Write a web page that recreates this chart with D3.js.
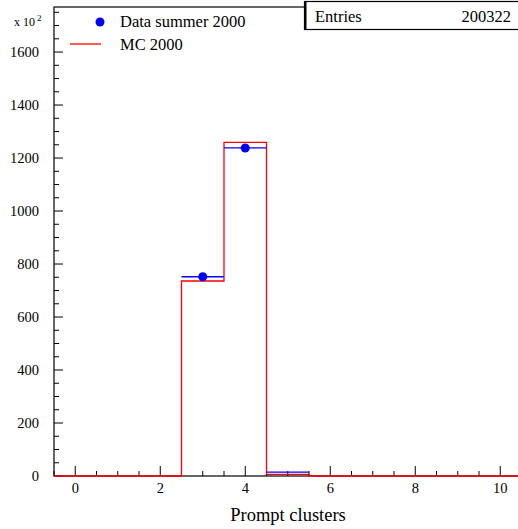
<!DOCTYPE html>
<html><head><meta charset="utf-8">
<script src="https://cdn.jsdelivr.net/npm/d3@7"></script>
<style>body{margin:0;background:#fff}svg{display:block}</style>
</head><body><svg id="c" width="518" height="529" font-family="'Liberation Serif', 'Times New Roman', Times, 'DejaVu Serif', serif"></svg>
<script>
// Data (values in units of 10^2)
const binCenters = [0,1,2,3,4,5,6,7,8,9,10];
const dataValues = [0,0,0,752,1238,15,0,0,0,0,0];
const mcValues   = [0,0,0,736,1259,6,0,0,0,0,0];
const xTickLabels = [0,2,4,6,8,10];
const yTickLabels = [0,200,400,600,800,1000,1200,1400,1600];
const entries = "200322";

const svg = d3.select("#c");
const x = d3.scaleLinear().domain([-0.5,10.5]).range([54,521.5]);
const y = d3.scaleLinear().domain([0,1770]).range([476,7]);

// Frame
svg.append("rect").attr("x",x(-0.5)).attr("y",y(1770)).attr("width",x(10.5)-x(-0.5)).attr("height",y(0)-y(1770))
  .attr("fill","none").attr("stroke","#000").attr("stroke-width",1.2);

// Y axis ticks (inside, pointing right)
d3.range(0,1751,50).forEach(v=>{
  const major = v%200===0;
  svg.append("line").attr("x1",x(-0.5)).attr("x2",x(-0.5)+(major?9:5)).attr("y1",y(v)).attr("y2",y(v)).attr("stroke","#000").attr("stroke-width",1);
});
yTickLabels.forEach(v=>{
  svg.append("text").attr("x",39).attr("y",y(v)+5).attr("text-anchor","end").attr("font-size",14.5).text(v);
});
// X axis ticks (pointing up)
d3.range(-0.5,10.51,0.5).forEach(v=>{
  const major = Math.abs(v%2)<1e-9;
  svg.append("line").attr("x1",x(v)).attr("x2",x(v)).attr("y1",y(0)).attr("y2",y(0)-(major?10:5)).attr("stroke","#000").attr("stroke-width",1);
});
xTickLabels.forEach(v=>{
  svg.append("text").attr("x",x(v)).attr("y",493).attr("text-anchor","middle").attr("font-size",14.5).text(v);
});
svg.append("text").attr("x",288).attr("y",521).attr("text-anchor","middle").attr("font-size",18.5).text("Prompt clusters");
// exponent label
const ex = svg.append("text").attr("x",14).attr("y",26).attr("font-size",12);
ex.append("tspan").text("x 10");
ex.append("tspan").attr("font-size",9).attr("dx",2).attr("dy",-5).text("2");

// MC histogram (step)
const stepPts = [[-0.5,0]];
binCenters.forEach((c,i)=>{ stepPts.push([c-0.5,mcValues[i]]); stepPts.push([c+0.5,mcValues[i]]); });
stepPts.push([10.5,0]);
svg.append("path").attr("d",d3.line().x(d=>x(d[0])).y(d=>y(d[1]))(stepPts))
  .attr("fill","none").attr("stroke","#ff0000").attr("stroke-width",1.3);

// Data points
binCenters.forEach((c,i)=>{
  const v = dataValues[i];
  if(v<=0) return;
  const err = Math.sqrt(v*100)/100;
  svg.append("line").attr("x1",x(c-0.5)).attr("x2",x(c+0.5)).attr("y1",y(v)).attr("y2",y(v)).attr("stroke","#0000ff").attr("stroke-width",1.3);
  svg.append("line").attr("x1",x(c)).attr("x2",x(c)).attr("y1",y(v-err)).attr("y2",y(v+err)).attr("stroke","#0000ff").attr("stroke-width",1);
  if(v>100) svg.append("circle").attr("cx",x(c)).attr("cy",y(v)).attr("r",4.5).attr("fill","#0000ff");
});

// Legend
svg.append("circle").attr("cx",100).attr("cy",22).attr("r",4.5).attr("fill","#0000ff");
svg.append("text").attr("x",120).attr("y",27).attr("font-size",16.5).text("Data summer 2000");
svg.append("line").attr("x1",70).attr("x2",101).attr("y1",44).attr("y2",44).attr("stroke","#ff0000").attr("stroke-width",1.3);
svg.append("text").attr("x",120).attr("y",50).attr("font-size",16.5).text("MC 2000");

// Stats box
svg.append("rect").attr("x",304.5).attr("y",1.5).attr("width",230).attr("height",28).attr("fill","#fff").attr("stroke","#000").attr("stroke-width",1.2);
svg.append("line").attr("x1",305.5).attr("x2",305.5).attr("y1",1).attr("y2",30).attr("stroke","#000").attr("stroke-width",2);
svg.append("text").attr("x",315).attr("y",22).attr("font-size",16.5).text("Entries");
svg.append("text").attr("x",511).attr("y",22).attr("text-anchor","end").attr("font-size",16.5).text(entries);
</script></body></html>
